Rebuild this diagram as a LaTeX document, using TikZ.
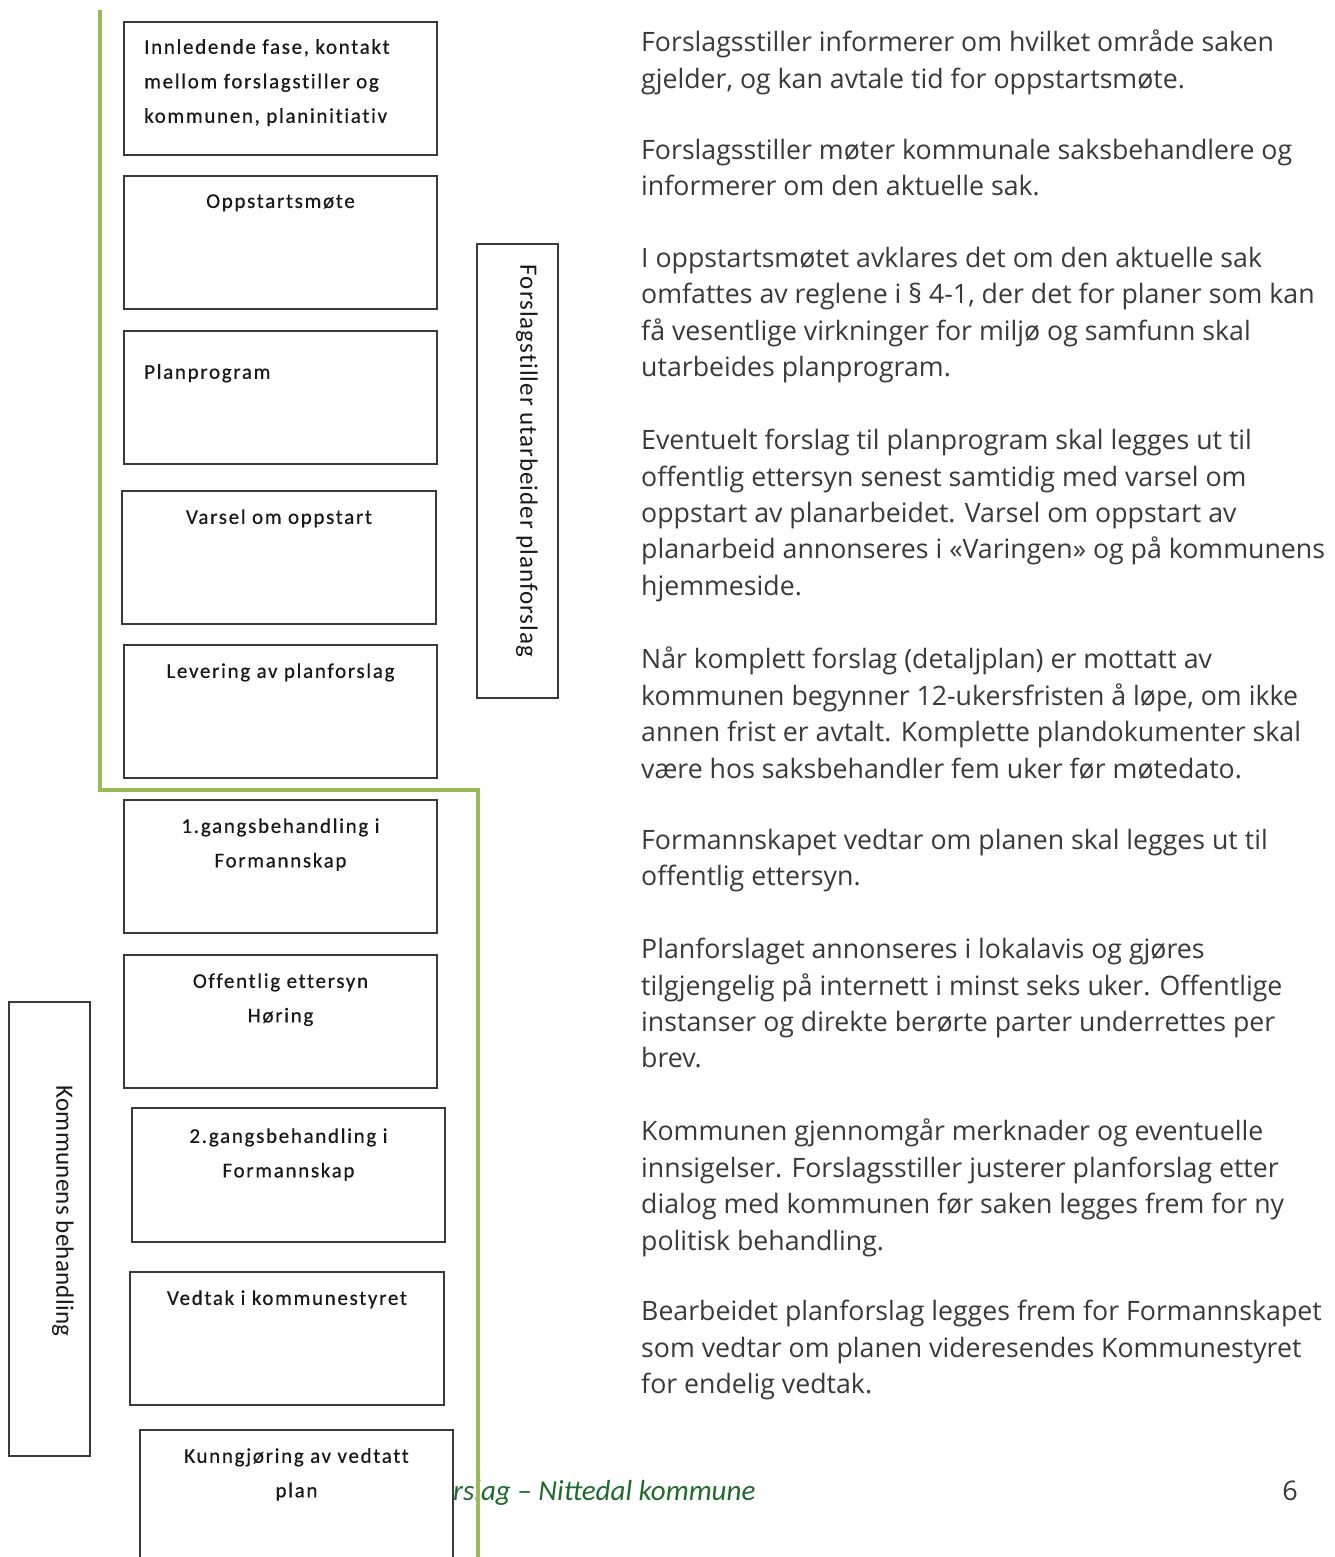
\documentclass[tikz,border=0pt]{standalone}
\usepackage{fontspec}
\setmainfont{Open Sans}
\newfontfamily\boxfont[LetterSpace=8,FakeBold=0.5,Ligatures=NoCommon]{Carlito}
\newfontfamily\sidefont[LetterSpace=4,Ligatures=NoCommon]{Carlito}
\newfontfamily\sidefontb[LetterSpace=1,Ligatures=NoCommon]{Carlito}
\newfontfamily\footfont{Carlito}
\definecolor{gline}{HTML}{9BBB59}
\definecolor{bord}{HTML}{3A3A3A}
\definecolor{txt}{HTML}{3A3A3A}
\definecolor{foot}{HTML}{1F6B2C}
\tikzset{
  stepbox/.style={draw=bord, line width=1.8pt, fill=white, rectangle, inner sep=0pt},
  boxlabel/.style={font=\boxfont\fontsize{21}{34.5}\selectfont, text=black!90, inner sep=0pt, anchor=north},
  sidelabel/.style={text=black!90, inner sep=0pt, rotate=-90},
  para/.style={font=\fontsize{26.7}{36.4}\selectfont, text=txt, inner sep=0pt, anchor=north west, align=left},
}
\begin{document}
\begin{tikzpicture}[x=1pt,y=-1pt]
\useasboundingbox (0,0) rectangle (1334,1557);
\fill[white] (0,0) rectangle (1334,1557);

% footer (partly hidden behind the last box)
\node[font=\footfont\itshape\fontsize{29}{32}\selectfont, text=foot, inner sep=0pt, anchor=base west] (ft) at (453,1500) {rslag – Nittedal kommune};
\node[font=\fontsize{27}{30}\selectfont, text=txt, inner sep=0pt, anchor=base east] (pg) at (1298,1500) {6};

% boxes
\node[stepbox, minimum width=313, minimum height=133] (b1) at (280.5,88.5) {};
\node[stepbox, minimum width=313, minimum height=133] (b2) at (280.5,242.5) {};
\node[stepbox, minimum width=313, minimum height=133] (b3) at (280.5,397.5) {};
\node[stepbox, minimum width=314, minimum height=133] (b4) at (279,557.5) {};
\node[stepbox, minimum width=313, minimum height=133] (b5) at (280.5,711.5) {};
\node[stepbox, minimum width=313, minimum height=133] (b6) at (280.5,866.5) {};
\node[stepbox, minimum width=313, minimum height=133] (b7) at (280.5,1021.5) {};
\node[stepbox, minimum width=313, minimum height=134] (b8) at (288.5,1175) {};
\node[stepbox, minimum width=314, minimum height=133] (b9) at (287,1338.5) {};
\node[stepbox, minimum width=313, minimum height=140] (b10) at (296.5,1500) {};

\node[boxlabel, anchor=north west, align=left] (t1) at (144,39) {Innledende fase, kontakt\\mellom forslagstiller og\\kommunen, planinitiativ};
\node[boxlabel] (t2) at ([yshift=-19]b2.north) {Oppstartsmøte};
\node[boxlabel, anchor=north west] (t3) at (144,364) {Planprogram};
\node[boxlabel] (t4) at ([yshift=-19]b4.north) {Varsel om oppstart};
\node[boxlabel] (t5) at ([yshift=-19]b5.north) {Levering av planforslag};
\node[boxlabel, align=center] (t6) at ([yshift=-19]b6.north) {1.gangsbehandling i\\Formannskap};
\node[boxlabel, align=center] (t7) at ([yshift=-19]b7.north) {Offentlig ettersyn\\Høring};
\node[boxlabel, align=center] (t8) at ([yshift=-21]b8.north) {2.gangsbehandling i\\Formannskap};
\node[boxlabel] (t9) at ([yshift=-19]b9.north) {Vedtak i kommunestyret};
\node[boxlabel, align=center] (t10) at (296.5,1448) {Kunngjøring av vedtatt\\plan};

% side boxes
\node[stepbox, minimum width=81, minimum height=454] (fs) at (517.5,471) {};
\node[sidelabel, font=\sidefont\fontsize{25}{28}\selectfont] (fst) at (527,461) {Forslagstiller utarbeider planforslag};
\node[stepbox, minimum width=81, minimum height=454] (kb) at (49.5,1229) {};
\node[sidelabel, font=\sidefontb\fontsize{25}{28}\selectfont] (kbt) at (63,1211) {Kommunens behandling};

% green boundary line
\coordinate (g1) at (100,10);
\coordinate (g2) at (100,790);
\coordinate (g3) at (478,790);
\coordinate (g4) at (478,1557);
\draw[gline, line width=4pt] (g1) -- (g2) -- (g3) -- (g4);

% right-hand text
\node[para] (p1) at (641,30) {Forslagsstiller informerer om hvilket område saken\\gjelder, og kan avtale tid for oppstartsmøte.};
\node[para] (p2) at (641,139) {Forslagsstiller møter kommunale saksbehandlere og\\informerer om den aktuelle sak.};
\node[para] (p3) at (641,247) {I oppstartsmøtet avklares det om den aktuelle sak\\omfattes av reglene i § 4-1, der det for planer som kan\\få vesentlige virkninger for miljø og samfunn skal\\utarbeides planprogram.};
\node[para] (p4) at (641,429) {Eventuelt forslag til planprogram skal legges ut til\\offentlig ettersyn senest samtidig med varsel om\\oppstart av planarbeidet. Varsel om oppstart av\\planarbeid annonseres i «Varingen» og på kommunens\\hjemmeside.};
\node[para] (p5) at (641,647) {Når komplett forslag (detaljplan) er mottatt av\\kommunen begynner 12-ukersfristen å løpe, om ikke\\annen frist er avtalt. Komplette plandokumenter skal\\være hos saksbehandler fem uker før møtedato.};
\node[para] (p6) at (641,829) {Formannskapet vedtar om planen skal legges ut til\\offentlig ettersyn.};
\node[para] (p7) at (641,938) {Planforslaget annonseres i lokalavis og gjøres\\tilgjengelig på internett i minst seks uker. Offentlige\\instanser og direkte berørte parter underrettes per\\brev.};
\node[para] (p8) at (641,1119) {Kommunen gjennomgår merknader og eventuelle\\innsigelser. Forslagsstiller justerer planforslag etter\\dialog med kommunen før saken legges frem for ny\\politisk behandling.};
\node[para] (p9) at (641,1300) {Bearbeidet planforslag legges frem for Formannskapet\\som vedtar om planen videresendes Kommunestyret\\for endelig vedtak.};
\end{tikzpicture}
\end{document}
